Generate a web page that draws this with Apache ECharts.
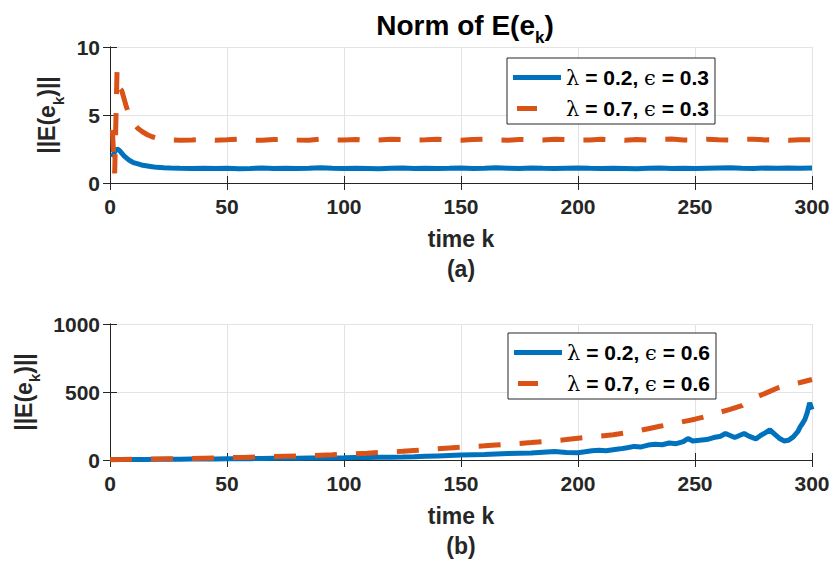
<!DOCTYPE html>
<html><head><meta charset="utf-8">
<script src="https://cdn.jsdelivr.net/npm/echarts@6/dist/echarts.min.js"></script>
<style>html,body{margin:0;padding:0;background:#fff}#c{width:833px;height:569px}</style>
</head><body><div id="c"></div>
<script>
// ---------- data ----------
const xTicks = [0, 50, 100, 150, 200, 250, 300];
const kTop = [1,2,3,4,5,6,7,8,9,10,12,14,16,18,20,23,26,30,35,40,45,50,55,60,65,70,75,80,85,90,95,100,105,110,115,120,125,130,135,140,145,150,155,160,165,170,175,180,185,190,195,200,205,210,215,220,225,230,235,240,245,250,255,260,265,270,275,280,285,290,295,300];
const topBlue = [1.9,2.3,2.5,2.4,2.2,2.0,1.85,1.7,1.6,1.5, 1.4,1.3,1.25,1.2,1.15, 1.12,1.1,1.08,
  1.07,1.09,1.06,1.08,1.05,1.07,1.10,1.06,1.08,1.07,
  1.09,1.12,1.08,1.06,1.09,1.07,1.05,1.08,1.10,1.07,
  1.09,1.06,1.08,1.11,1.07,1.09,1.12,1.08,1.06,1.10,
  1.08,1.07,1.09,1.11,1.08,1.06,1.09,1.07,1.05,1.08,
  1.10,1.07,1.09,1.06,1.08,1.10,1.12,1.09,1.07,1.10,
  1.08,1.11,1.09,1.10];
const topOrange = [3.9,0.7,8.2,7.0,6.8,6.2,5.6,5.1,4.7,4.4, 4.0,3.75,3.55,3.4,3.3, 3.22,3.18,3.15,
  3.17,3.20,3.15,3.18,3.22,3.16,3.14,3.19,3.21,3.17,
  3.15,3.23,3.18,3.16,3.20,3.14,3.17,3.21,3.19,3.15,
  3.18,3.22,3.16,3.14,3.19,3.23,3.17,3.15,3.20,3.18,
  3.16,3.21,3.19,3.15,3.17,3.22,3.18,3.14,3.20,3.16,
  3.19,3.23,3.17,3.15,3.21,3.18,3.16,3.20,3.22,3.17,
  3.19,3.15,3.18,3.17];
const kBotOrange = [0,5,10,15,20,25,30,35,40,45,50,55,60,65,70,75,80,85,90,95,100,105,110,115,120,125,130,135,140,145,150,155,160,165,170,175,180,185,190,195,200,205,210,215,220,225,230,235,240,245,250,255,260,265,270,275,280,285,290,295,300];
const botOrange = [2,4,5,7,8,9,10,11,13,15,
  17,19,21,23,25,27,29,32,35,38,
  42,46,50,55,59,64,70,76,82,88,
  94,99,104,110,116,122,128,135,142,150,
  160,168,176,186,198,212,230,248,264,282,
  300,322,348,372,400,455,490,528,552,570,
  592];
const kBotBlue = [0,5,10,15,20,25,30,35,40,45,50,55,60,65,70,75,80,85,90,95,100,105,110,115,120,125,130,135,140,145,150,155,160,165,170,175,180,185,190,195,200,
  203,206,209,212,215,218,221,224,227,230,233,236,239,242,245,247,249,252,255,258,261,263,265,267,269,271,273,276,278,280,282,284,286,288,290,292,294,295,296,297,298,299,300];
const botBlue = [2,3,4,4,5,6,6,7,7,8,
  9,9,10,11,12,12,13,14,15,15,
  16,18,19,20,21,22,24,27,30,33,
  36,38,40,44,47,50,52,57,62,56,
  54,
  60,68,72,68,75,82,90,100,96,110,
  115,112,125,120,135,158,140,145,150,165,
  175,195,180,165,180,195,175,155,180,200,
  222,190,160,140,145,170,210,245,270,300,
  350,420,370];
const names = ['λ = 0.2, ϵ = 0.3', 'λ = 0.7, ϵ = 0.3', 'λ = 0.2, ϵ = 0.6', 'λ = 0.7, ϵ = 0.6'];

// ---------- helpers ----------
const zip = (xs, ys) => xs.map((x, i) => [x, ys[i]]);
const FONT = 'Liberation Sans, Arial, Helvetica, sans-serif';
const AX = '#262626';
const BLUE = '#0072BD', ORANGE = '#D95319';
const subRich = { sub: { fontSize: 15, fontWeight: 'bold', fontFamily: FONT, color: AX, padding: [22, 0, 0, 0] } };
// legend icons: solid bar, single centred dash (M-moves fix the icon's bounding box)
const ICON_SOLID = 'path://M0,0 H48 V5 H0 Z';
const ICON_DASH = 'path://M0,0 M48,5 M4,0 H24 V5 H4 Z';

function xAx(grid, main, label) {
  const a = {
    type: 'value', gridIndex: grid, min: 0, max: 300, interval: 50,
    position: main ? 'bottom' : 'top',
    axisLine: { show: true, lineStyle: { color: AX, width: 1 } },
    axisTick: { show: true, inside: true, length: 7, lineStyle: { color: AX } },
    axisLabel: { show: main, fontSize: 21, fontWeight: 'bold', fontFamily: FONT, color: AX, margin: 13 },
    splitLine: { show: main, lineStyle: { color: '#e3e3e3', width: 1 } }
  };
  if (main) {
    a.name = 'time k\n' + label;
    a.nameLocation = 'middle';
    a.nameGap = 41;
    a.nameTextStyle = { fontSize: 23, fontWeight: 'bold', fontFamily: FONT, color: AX, lineHeight: 30 };
  }
  return a;
}
function yAx(grid, main, max, interval, gap) {
  const a = {
    type: 'value', gridIndex: grid, min: 0, max: max, interval: interval,
    position: main ? 'left' : 'right',
    axisLine: { show: true, lineStyle: { color: AX, width: 1 } },
    axisTick: { show: true, inside: true, length: 7, lineStyle: { color: AX } },
    axisLabel: { show: main, fontSize: 21, fontWeight: 'bold', fontFamily: FONT, color: AX, margin: 10,
      formatter: v => String(v) },
    splitLine: { show: main, lineStyle: { color: '#e3e3e3', width: 1 } }
  };
  if (main) {
    a.name = '||E(e{sub|k})||';
    a.nameLocation = 'middle';
    a.nameGap = gap;
    a.nameTextStyle = { fontSize: 23, fontWeight: 'bold', fontFamily: FONT, color: AX, rich: subRich };
  }
  return a;
}
function legend(top, left, data) {
  return {
    orient: 'vertical', left: left, top: top,
    padding: [9, 6, 5, 6], itemGap: 10, itemWidth: 48, itemHeight: 5,
    borderColor: AX, borderWidth: 1, backgroundColor: '#fff',
    data: data,
    formatter: n => n.replace('λ', '{g|λ}').replace('ϵ', '{g|ϵ}'),
    textStyle: {
      fontSize: 21, fontWeight: 'bold', fontFamily: FONT, color: '#000', lineHeight: 20,
      rich: { g: { fontSize: 21, fontWeight: 'normal', fontFamily: 'DejaVu Serif, serif', color: '#000', lineHeight: 20 } }
    },
    selectedMode: false
  };
}
function line(name, xi, yi, data, color, dashed) {
  return {
    name: name, type: 'line', xAxisIndex: xi, yAxisIndex: yi, data: data,
    symbol: 'none', smooth: false, clip: true,
    lineStyle: dashed ? { color: color, width: 5, type: [22, 19], cap: 'butt' } : { color: color, width: 5 },
    itemStyle: { color: color }
  };
}

const chart = echarts.init(document.getElementById('c'), null, { renderer: 'svg' });
chart.setOption({
  animation: false,
  backgroundColor: '#fff',
  title: {
    text: 'Norm of E(e{sub|k})', left: 460, top: 0, textAlign: 'center',
    textStyle: { fontSize: 28, fontWeight: 'bold', fontFamily: FONT, color: '#000',
      rich: { sub: { fontSize: 17, fontWeight: 'bold', fontFamily: FONT, color: '#000', padding: [24, 0, 0, 0] } } }
  },
  grid: [
    { left: 110, top: 47, width: 702, height: 136 },
    { left: 110, top: 324, width: 702, height: 136 }
  ],
  xAxis: [xAx(0, true, '(a)'), xAx(0, false), xAx(1, true, '(b)'), xAx(1, false)],
  yAxis: [yAx(0, true, 10, 5, 40), yAx(0, false, 10, 5), yAx(1, true, 1000, 500, 66), yAx(1, false, 1000, 500)],
  legend: [
    legend(58, 507, [{ name: names[0], icon: ICON_SOLID }, { name: names[1], icon: ICON_DASH }]),
    legend(333, 508, [{ name: names[2], icon: ICON_SOLID }, { name: names[3], icon: ICON_DASH }])
  ],
  series: [
    line(names[0], 0, 0, zip(kTop, topBlue), BLUE, false),
    line(names[1], 0, 0, zip(kTop, topOrange), ORANGE, true),
    line(names[2], 2, 2, zip(kBotBlue, botBlue), BLUE, false),
    line(names[3], 2, 2, zip(kBotOrange, botOrange), ORANGE, true)
  ]
});
</script></body></html>
